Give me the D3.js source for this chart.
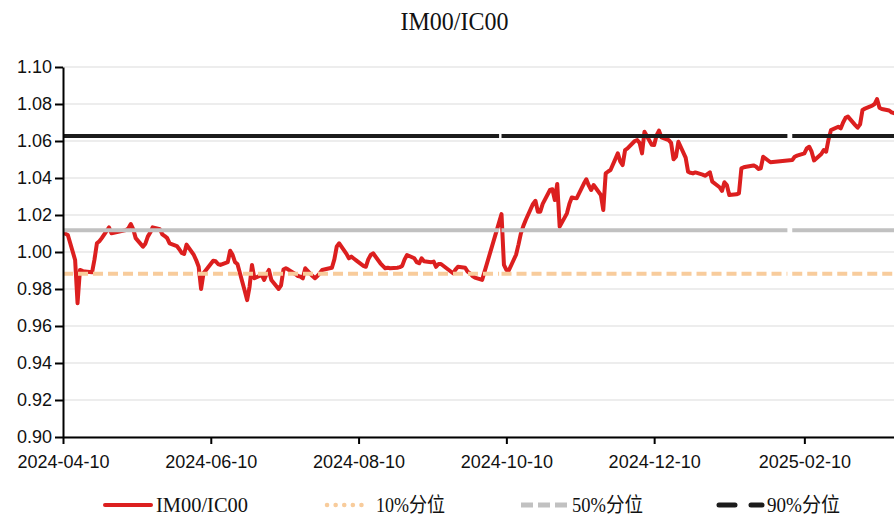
<!DOCTYPE html>
<html>
<head>
<meta charset="utf-8">
<script src="https://cdn.jsdelivr.net/npm/d3@7/dist/d3.min.js"></script>
<style>
  html, body { margin: 0; padding: 0; background: #fff; }
  svg { display: block; }
</style>
</head>
<body>
<svg id="chart" width="894" height="516"></svg>
<script>
// IM00 / IC00 price ratio, daily closes
const dates = [
  "2024-04-10","2024-04-12","2024-04-15","2024-04-16","2024-04-17","2024-04-18","2024-04-19",
  "2024-04-22","2024-04-23","2024-04-24","2024-04-25","2024-04-26","2024-04-29","2024-04-30",
  "2024-05-06","2024-05-07","2024-05-08","2024-05-09","2024-05-10","2024-05-13","2024-05-14",
  "2024-05-15","2024-05-16","2024-05-17","2024-05-20","2024-05-21","2024-05-22","2024-05-23",
  "2024-05-24","2024-05-27","2024-05-28","2024-05-29","2024-05-30","2024-05-31","2024-06-03",
  "2024-06-04","2024-06-05","2024-06-06","2024-06-07","2024-06-11","2024-06-12","2024-06-13",
  "2024-06-14","2024-06-17","2024-06-18","2024-06-19","2024-06-20","2024-06-21","2024-06-24",
  "2024-06-25","2024-06-26","2024-06-27","2024-06-28","2024-07-01","2024-07-02","2024-07-03",
  "2024-07-04","2024-07-05","2024-07-08","2024-07-09","2024-07-10","2024-07-11","2024-07-12",
  "2024-07-15","2024-07-16","2024-07-17","2024-07-18","2024-07-19","2024-07-22","2024-07-23",
  "2024-07-24","2024-07-25","2024-07-26","2024-07-29","2024-07-30","2024-07-31","2024-08-01",
  "2024-08-02","2024-08-05","2024-08-06","2024-08-07","2024-08-08","2024-08-09","2024-08-12",
  "2024-08-13","2024-08-14","2024-08-15","2024-08-16","2024-08-19","2024-08-20","2024-08-21",
  "2024-08-22","2024-08-23","2024-08-26","2024-08-27","2024-08-28","2024-08-29","2024-08-30",
  "2024-09-02","2024-09-03","2024-09-04","2024-09-05","2024-09-06","2024-09-09","2024-09-10",
  "2024-09-11","2024-09-12","2024-09-13","2024-09-18","2024-09-19","2024-09-20","2024-09-23",
  "2024-09-24","2024-09-25","2024-09-26","2024-09-27","2024-09-30","2024-10-08","2024-10-09",
  "2024-10-10","2024-10-11","2024-10-14","2024-10-15","2024-10-16","2024-10-17","2024-10-18",
  "2024-10-21","2024-10-22","2024-10-23","2024-10-24","2024-10-25","2024-10-28","2024-10-29",
  "2024-10-30","2024-10-31","2024-11-01","2024-11-04","2024-11-05","2024-11-06","2024-11-07",
  "2024-11-08","2024-11-11","2024-11-12","2024-11-13","2024-11-14","2024-11-15","2024-11-18",
  "2024-11-19","2024-11-20","2024-11-21","2024-11-22","2024-11-25","2024-11-26","2024-11-27",
  "2024-11-28","2024-11-29","2024-12-02","2024-12-03","2024-12-04","2024-12-05","2024-12-06",
  "2024-12-09","2024-12-10","2024-12-11","2024-12-12","2024-12-13","2024-12-16","2024-12-17",
  "2024-12-18","2024-12-19","2024-12-20","2024-12-23","2024-12-24","2024-12-25","2024-12-26",
  "2024-12-27","2024-12-30","2024-12-31","2025-01-02","2025-01-03","2025-01-06","2025-01-07",
  "2025-01-08","2025-01-09","2025-01-10","2025-01-13","2025-01-14","2025-01-15","2025-01-16",
  "2025-01-17","2025-01-20","2025-01-21","2025-01-22","2025-01-23","2025-01-24","2025-01-27",
  "2025-02-05","2025-02-06","2025-02-07","2025-02-10","2025-02-11","2025-02-12","2025-02-13",
  "2025-02-14","2025-02-17","2025-02-18","2025-02-19","2025-02-20","2025-02-21","2025-02-24",
  "2025-02-25","2025-02-26","2025-02-27","2025-02-28","2025-03-03","2025-03-04","2025-03-05",
  "2025-03-06","2025-03-07","2025-03-10","2025-03-11","2025-03-12","2025-03-13","2025-03-14",
  "2025-03-17","2025-03-18","2025-03-19"
];

const ratio = [
  1.0105,1.0092,0.9957,0.9723,0.9903,0.9898,0.9894,
  0.9890,0.9960,1.0047,1.0058,1.0075,1.0133,1.0101,
  1.0118,1.0128,1.0151,1.0123,1.0075,1.0029,1.0045,
  1.0083,1.0105,1.0133,1.0123,1.0095,1.0086,1.0075,
  1.0047,1.0032,1.0015,0.9995,0.9989,1.0040,0.9984,
  0.9955,0.9920,0.9800,0.9885,0.9953,0.9950,0.9935,
  0.9930,0.9945,1.0007,0.9985,0.9945,0.9935,0.9790,
  0.9740,0.9812,0.9930,0.9858,0.9876,0.9849,0.9880,
  0.9903,0.9849,0.9800,0.9820,0.9905,0.9912,0.9905,
  0.9880,0.9870,0.9867,0.9858,0.9912,0.9870,0.9858,
  0.9870,0.9885,0.9903,0.9912,0.9915,0.9960,1.0030,
  1.0047,0.9990,0.9966,0.9975,0.9965,0.9955,0.9925,
  0.9920,0.9960,0.9984,0.9993,0.9939,0.9925,0.9912,
  0.9915,0.9912,0.9915,0.9918,0.9925,0.9960,0.9984,
  0.9966,0.9945,0.9939,0.9966,0.9950,0.9945,0.9948,
  0.9920,0.9935,0.9935,0.9885,0.9905,0.9920,0.9915,
  0.9894,0.9885,0.9870,0.9862,0.9849,1.0205,0.9930,
  0.9903,0.9900,0.9985,1.0040,1.0101,1.0140,1.0173,
  1.0260,1.0277,1.0218,1.0218,1.0260,1.0335,1.0339,
  1.0281,1.0368,1.0137,1.0209,1.0260,1.0295,1.0292,
  1.0290,1.0370,1.0393,1.0360,1.0335,1.0362,1.0308,
  1.0227,1.0425,1.0435,1.0443,1.0533,1.0490,1.0470,
  1.0551,1.0560,1.0600,1.0605,1.0590,1.0533,1.0650,
  1.0580,1.0578,1.0630,1.0656,1.0620,1.0605,1.0590,
  1.0501,1.0515,1.0596,1.0510,1.0434,1.0428,1.0425,
  1.0430,1.0418,1.0412,1.0431,1.0380,1.0350,1.0330,
  1.0377,1.0362,1.0308,1.0312,1.0317,1.0452,1.0458,
  1.0461,1.0468,1.0462,1.0449,1.0452,1.0515,1.0485,
  1.0497,1.0515,1.0521,1.0533,1.0560,1.0569,1.0542,
  1.0495,1.0530,1.0551,1.0542,1.0610,1.0659,1.0677,
  1.0668,1.0700,1.0725,1.0732,1.0686,1.0672,1.0690,
  1.0768,1.0775,1.0791,1.0800,1.0827,1.0780,1.0773,
  1.0765,1.0755,1.0750
];

// Historical percentile levels of the ratio
const pctNames  = ["10%分位", "50%分位", "90%分位"];
const pctValues = [0.9883, 1.0118, 1.0627];

// Exchange holiday closures where the reference lines are broken
const breakSpans = [["2024-10-07", "2024-10-08"], ["2025-02-03", "2025-02-05"]];

const xTickLabels = ["2024-04-10","2024-06-10","2024-08-10","2024-10-10","2024-12-10","2025-02-10"];
const xDomain = ["2024-04-10", "2025-03-19"];
const yDomain = [0.90, 1.10];

const seriesName = "IM00/IC00";

// ---- layout ----
const W = 894, H = 516;
const m = { left: 63, right: 0, top: 67, bottom: 79 };
const parse = d3.timeParse("%Y-%m-%d");
const fmtDate = d3.timeFormat("%Y-%m-%d");

const svg = d3.select("#chart");

const x = d3.scaleTime()
  .domain(xDomain.map(parse))
  .range([m.left, W - m.right]);
const y = d3.scaleLinear()
  .domain(yDomain)
  .range([H - m.bottom, m.top]);

const points = dates.map((d, i) => ({ date: parse(d), value: ratio[i] }));

// Title
svg.append("text")
  .attr("x", 454.5).attr("y", 30)
  .attr("text-anchor", "middle")
  .attr("font-family", "'Liberation Serif', 'DejaVu Serif', serif")
  .attr("font-size", 25)
  .attr("textLength", 108).attr("lengthAdjust", "spacingAndGlyphs")
  .attr("fill", "#111")
  .text(seriesName);

// Horizontal grid
const yTicks = y.ticks(10);
svg.append("g")
  .selectAll("line")
  .data(yTicks)
  .join("line")
  .attr("x1", m.left).attr("x2", W - m.right)
  .attr("y1", d => y(d)).attr("y2", d => y(d))
  .attr("stroke", "#ededed")
  .attr("stroke-width", 2);

const plot = svg.append("g");
plot.append("clipPath").attr("id", "plotClip")
  .append("rect")
  .attr("x", m.left).attr("y", 0)
  .attr("width", W - m.left).attr("height", H - m.bottom);

// Ratio series
const line = d3.line()
  .x(d => x(d.date))
  .y(d => y(d.value));

plot.append("path")
  .datum(points)
  .attr("clip-path", "url(#plotClip)")
  .attr("fill", "none")
  .attr("stroke", "#dc1f1f")
  .attr("stroke-width", 4)
  .attr("stroke-linejoin", "round")
  .attr("stroke-linecap", "round")
  .attr("d", line);

// Percentile reference lines, split at the holiday breaks
const pctStyles = [
  { color: "#f8cc9c", width: 4, dash: "10,5" },
  { color: "#c1c1c1", width: 4, dash: null },
  { color: "#1c1c1c", width: 4, dash: null }
];
const domainStart = parse(xDomain[0]), domainEnd = parse(xDomain[1]);
const segments = [];
let segStart = domainStart;
breakSpans.forEach(([a, b]) => {
  segments.push([segStart, parse(a)]);
  segStart = parse(b);
});
segments.push([segStart, domainEnd]);

pctValues.forEach((v, i) => {
  const st = pctStyles[i];
  plot.append("g")
    .selectAll("line")
    .data(segments)
    .join("line")
    .attr("x1", s => x(s[0])).attr("x2", s => x(s[1]))
    .attr("y1", y(v)).attr("y2", y(v))
    .attr("stroke", st.color)
    .attr("stroke-width", st.width)
    .attr("stroke-dasharray", st.dash);
});

// Axes
const axisFont = "'Liberation Sans', Arial, sans-serif";

const yAxis = svg.append("g")
  .attr("transform", `translate(${m.left},0)`)
  .call(d3.axisLeft(y).tickValues(yTicks).tickFormat(d3.format(".2f"))
    .tickSize(8).tickSizeOuter(0).tickPadding(3));
yAxis.selectAll("text").attr("font-family", axisFont).attr("font-size", 18).attr("fill", "#111");

const xAxis = svg.append("g")
  .attr("transform", `translate(0,${H - m.bottom})`)
  .call(d3.axisBottom(x).tickValues(xTickLabels.map(parse)).tickFormat(fmtDate)
    .tickSize(7).tickSizeOuter(0).tickPadding(11));
xAxis.selectAll("text").attr("font-family", axisFont).attr("font-size", 18).attr("fill", "#111");

[yAxis, xAxis].forEach(g => {
  g.select(".domain").attr("stroke", "#000").attr("stroke-width", 2);
  g.selectAll(".tick line").attr("stroke", "#000").attr("stroke-width", 2);
});

// Legend
const legendY = 505;
const legendFont = "'Liberation Serif', 'Noto Sans CJK SC', serif";
const legendItems = [
  { label: seriesName, color: "#dc1f1f", x0: 105, x1: 151, tx: 156, tw: 92, dash: null, cap: "round", w: 4 },
  { label: pctNames[0], color: "#f8cc9c", x0: 327, x1: 365, tx: 376, tw: 69, dash: "0.1,8.5", cap: "round", w: 4.5 },
  { label: pctNames[1], color: "#c1c1c1", x0: 521, x1: 567, tx: 572, tw: 71, dash: "12,5", cap: "butt", w: 5 },
  { label: pctNames[2], color: "#1c1c1c", x0: 719, x1: 762, tx: 767, tw: 73, dash: "16,16", cap: "round", w: 5 }
];
const lg = svg.append("g");
legendItems.forEach(it => {
  lg.append("line")
    .attr("x1", it.x0).attr("x2", it.x1)
    .attr("y1", legendY).attr("y2", legendY)
    .attr("stroke", it.color)
    .attr("stroke-width", it.w)
    .attr("stroke-linecap", it.cap)
    .attr("stroke-dasharray", it.dash);
  lg.append("text")
    .attr("x", it.tx).attr("y", legendY + 7)
    .attr("font-family", legendFont)
    .attr("font-size", 20)
    .attr("textLength", it.tw).attr("lengthAdjust", "spacingAndGlyphs")
    .attr("fill", "#111")
    .text(it.label);
});
</script>
</body>
</html>
